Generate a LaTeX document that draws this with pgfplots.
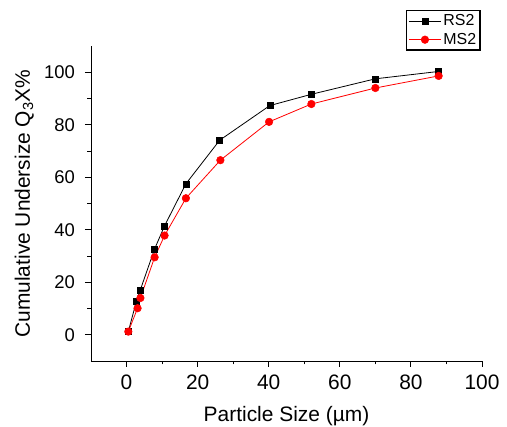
\documentclass[border=0pt]{standalone}
\usepackage{pgfplots}
\pgfplotsset{compat=1.18}
\usepackage{fontspec}
\setmainfont{Liberation Sans}
\begin{document}
\begin{tikzpicture}
\begin{axis}[
  at={(0,0)}, anchor=south west, scale only axis,
  width=391bp, height=315bp,
  xmin=-10, xmax=100, ymin=-10, ymax=110,
  axis x line*=bottom, axis y line*=left,
  axis line style={-, line width=0.9bp},
  xtick={0,20,...,100}, ytick={0,20,...,100},
  minor tick num=1,
  tick align=outside, major tick length=6bp, minor tick length=3.5bp,
  tick style={black, line width=0.9bp},
  /pgf/number format/assume math mode=true,
  xticklabel style={font=\fontsize{21}{24}\selectfont, inner sep=0pt, anchor=north, yshift=-8bp},
  yticklabel style={font=\fontsize{18.5}{22}\selectfont, inner sep=0pt, anchor=east, xshift=-10bp},
  label style={font=\fontsize{21}{24}\selectfont},
  xlabel={Particle Size (µm)},
  ylabel={Cumulative Undersize Q\textsubscript{3}X\%},
  xlabel style={at={(axis description cs:0.5,0)}, anchor=base, inner sep=0pt, yshift=-61bp},
  ylabel style={at={([xshift=-61bp]axis description cs:0,0.5)}, anchor=base, inner sep=0pt},
  legend cell align=left,
  legend style={at={(0.997,1.114)}, anchor=north east,
    font=\fontsize{16}{18}\selectfont, draw=black, line width=1.4bp,
    inner sep=2bp, row sep=2bp},
  legend image code/.code={\draw[mark repeat=2,mark phase=2,#1] plot coordinates {(0bp,0bp)(16bp,0bp)(32bp,0bp)};},
]
\addplot[black, line width=0.8bp, mark=square*, mark size=3bp, mark options={solid, line width=0.5bp}] coordinates {
(0.5,1.2) (2.8,12.9) (3.8,16.8) (7.9,32.7) (10.7,41.5) (16.7,57.5) (26.2,74.1) (40.3,87.3) (52.0,91.6) (70.0,97.5) (87.8,100.3)
};
\addlegendentry{RS2}
\addplot[red, line width=0.8bp, mark=*, mark size=3.8bp, mark options={solid, line width=0.5bp}] coordinates {
(0.5,1.2) (3.1,10.1) (3.9,14.0) (7.9,29.5) (10.7,37.8) (16.7,52.0) (26.4,66.5) (40.1,81.1) (52.0,87.9) (70.0,94.0) (87.8,98.6)
};
\addlegendentry{MS2}
\end{axis}
\path[use as bounding box] (-91bp,-64bp) rectangle (416bp,361bp);
\end{tikzpicture}
\end{document}
